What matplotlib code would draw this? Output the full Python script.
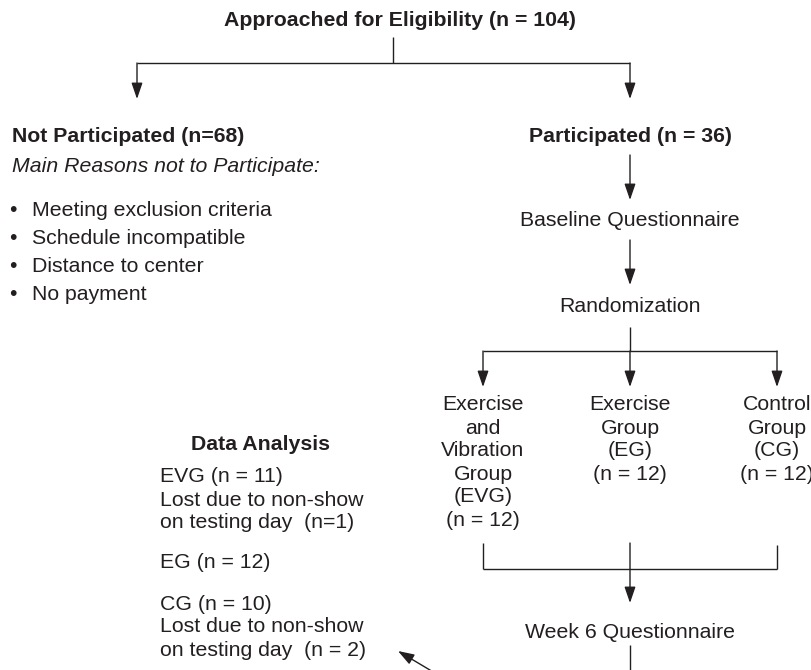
import matplotlib.pyplot as plt

plt.rcParams["font.family"] = ["Liberation Sans", "DejaVu Sans"]

INK = "#231f20"
FONT = 15.3
PITCH = 23  # line pitch in px

# --- texts -------------------------------------------------------------
title = "Approached for Eligibility (n = 104)"
not_part_head = "Not Participated (n=68)"
not_part_sub = "Main Reasons not to Participate:"
reasons = [
    "Meeting exclusion criteria",
    "Schedule incompatible",
    "Distance to center",
    "No payment",
]
part_head = "Participated (n = 36)"
steps = ["Baseline Questionnaire", "Randomization"]
groups = [
    ["Exercise", "and", "Vibration", "Group", "(EVG)", "(n = 12)"],
    ["Exercise", "Group", "(EG)", "(n = 12)"],
    ["Control", "Group", "(CG)", "(n = 12)"],
]
followup = "Week 6 Questionnaire"
analysis_head = "Data Analysis"
analysis_blocks = [
    ["EVG (n = 11)", "Lost due to non-show", "on testing day  (n=1)"],
    ["EG (n = 12)"],
    ["CG (n = 10)", "Lost due to non-show", "on testing day  (n = 2)"],
]

# --- layout (pixel coords, y down) -------------------------------------
x_top, x_left, x_right = 393, 137, 630
x_groups = [483, 630, 777]
y_groups = 405
analysis_x = 160
analysis_y = [477, 563, 604]


def arrow(ax, x0, y0, x1, y1):
    ax.annotate(
        "", xy=(x1, y1), xytext=(x0, y0),
        arrowprops=dict(arrowstyle="-|>,head_length=0.7,head_width=0.24",
                        mutation_scale=14, color=INK, lw=1.0,
                        shrinkA=0, shrinkB=0),
    )


def line(ax, xs, ys):
    ax.plot(xs, ys, color=INK, lw=1.0, solid_capstyle="butt")


fig = plt.figure(figsize=(8.12, 6.70), dpi=100)
ax = fig.add_axes([0, 0, 1, 1])
ax.set_xlim(0, 812)
ax.set_ylim(670, 0)
ax.axis("off")

txt = dict(color=INK, fontsize=FONT, va="center")

# top split
ax.text(400, 21, title, ha="center", fontweight="bold", **txt)
line(ax, [x_top, x_top], [37, 63])
line(ax, [x_left, x_right], [63, 63])
arrow(ax, x_left, 63, x_left, 99)
arrow(ax, x_right, 63, x_right, 99)

# left branch
ax.text(12, 137, not_part_head, ha="left", fontweight="bold", **txt)
ax.text(12, 166, not_part_sub, ha="left", style="italic", **txt)
for i, r in enumerate(reasons):
    y = 210 + i * 28
    ax.text(9, y, "\u2022", ha="left", **txt)
    ax.text(32, y, r, ha="left", **txt)

# right branch
xc = x_groups[1]
ax.text(xc, 137, part_head, ha="center", fontweight="bold", **txt)
arrow(ax, xc, 155, xc, 200)
ax.text(xc, 221, steps[0], ha="center", **txt)
arrow(ax, xc, 240, xc, 285)
ax.text(xc, 306, steps[1], ha="center", **txt)
line(ax, [xc, xc], [327, 351])
line(ax, [x_groups[0], x_groups[2]], [351, 351])
for gx, lines in zip(x_groups, groups):
    arrow(ax, gx, 351, gx, 387)
    for j, s in enumerate(lines):
        ax.text(gx, y_groups + j * PITCH, s, ha="center", **txt)

# merge
line(ax, [x_groups[0], x_groups[0]], [543, 569])
line(ax, [x_groups[2], x_groups[2]], [545, 569])
line(ax, [x_groups[0], x_groups[2]], [569, 569])
arrow(ax, xc, 543, xc, 603)
ax.text(xc, 632, followup, ha="center", **txt)
line(ax, [xc, xc], [645, 672])

# data analysis
ax.text(261, 445, analysis_head, ha="center", fontweight="bold", **txt)
for y0, block in zip(analysis_y, analysis_blocks):
    for j, s in enumerate(block):
        ax.text(analysis_x, y0 + j * PITCH, s, ha="left", **txt)
arrow(ax, 445, 679, 398, 651)

fig.savefig("out.png", dpi=100)
